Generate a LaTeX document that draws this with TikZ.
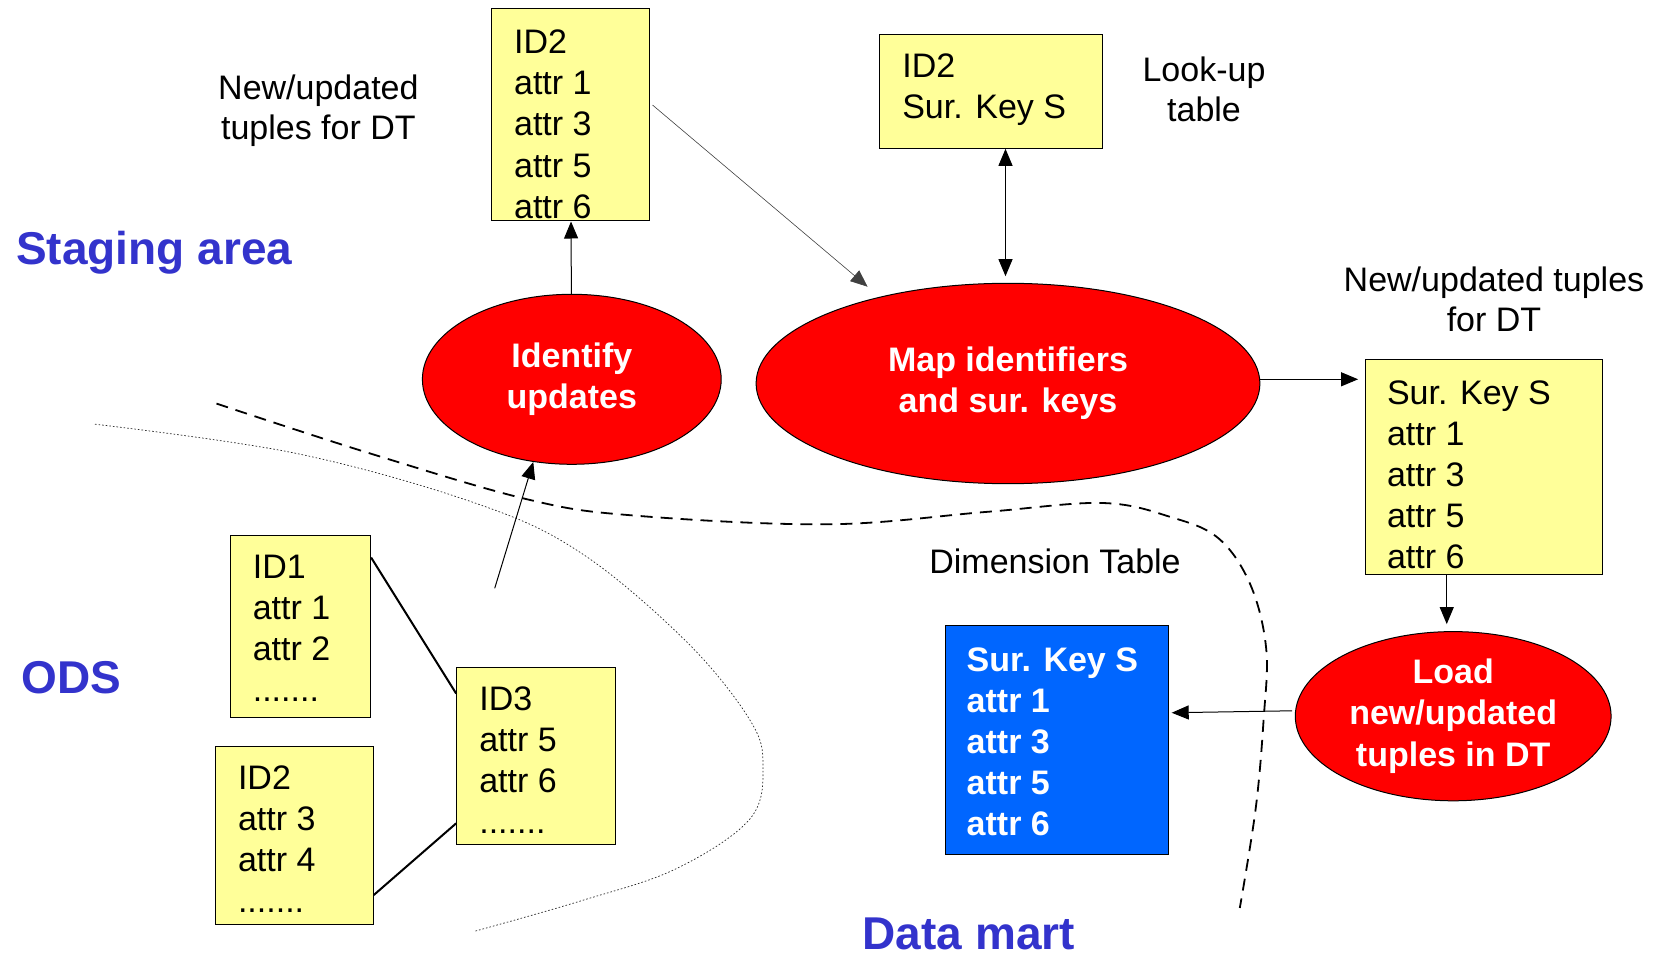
\documentclass[tikz,border=0pt]{standalone}
\usepackage{fontspec}
\setmainfont{Liberation Sans}
\usetikzlibrary{arrows.meta,calc,shapes.geometric}
\definecolor{boxyellow}{RGB}{255,255,153}
\definecolor{boxblue}{RGB}{0,102,255}
\definecolor{procred}{RGB}{255,0,0}
\definecolor{areablue}{RGB}{51,51,204}
\begin{document}
\begin{tikzpicture}[x=0.5pt,y=-0.5pt,
  ybox/.style={draw=black, line width=0.5pt, fill=boxyellow, inner sep=0},
  bbox/.style={draw=black, line width=0.5pt, fill=boxblue, inner sep=0},
  btext/.style={inner sep=0, anchor=north west, align=left, font=\fontsize{17}{20.6}\selectfont},
  wtext/.style={inner sep=0, anchor=north west, align=left, text=white, font=\fontsize{17}{20.6}\selectfont\bfseries},
  proc/.style={ellipse, draw=black, line width=0.5pt, fill=procred, text=white, align=center, inner sep=0, font=\fontsize{17}{20.7}\selectfont\bfseries},
  lbl/.style={inner sep=0, align=center, font=\fontsize{17}{20}\selectfont},
  area/.style={inner sep=0, anchor=base west, text=areablue, font=\fontsize{23}{27}\selectfont\bfseries},
  arr/.style={-{Triangle[length=8.5pt,width=7pt]}, line width=0.5pt},
  dblarr/.style={{Triangle[length=8.5pt,width=7pt]}-{Triangle[length=8.5pt,width=7pt]}, line width=0.5pt},
  thinarr/.style={-{Triangle[length=8.5pt,width=7pt]}, line width=0.3pt, draw=black!75},
  link/.style={line width=1pt},
  boundary/.style={line width=0.9pt, dash pattern=on 6pt off 4pt},
  fineline/.style={line width=0.35pt, draw=black!85, dash pattern=on 0.8pt off 1pt}
]
\useasboundingbox (0,0) rectangle (1656,957);

% area titles
\node[area] (tstage) at (15.8,265) {Staging area};
\node[area] (tods) at (21.1,693) {ODS};
\node[area] (tmart) at (862.3,949) {Data mart};

% boundaries
\draw[boundary] plot[smooth, tension=0.6] coordinates {(216.5,403.6) (369.6,453.3) (528,499.5) (633.6,515.5) (828,524.3) (986.4,511.9) (1102.5,503) (1171.2,517.2) (1218.7,538.5) (1250.4,584.7) (1266.2,648.7) (1263.6,719.7) (1255.7,808.5) (1239.8,908)};
\draw[fineline] plot[smooth, tension=0.6] coordinates {(95,424.2) (295.7,453.3) (475,503) (580.8,552.8) (686.4,641.6) (749.7,719.7) (763,765.9) (749.7,819.2) (675.8,868.9) (580.8,900.9) (475.2,931.1)};

% top staging table
\node[ybox, minimum width=78.9pt, minimum height=106pt] (tb) at (570.5,115) {};
\node[btext] (tbt) at (513.7,29.3) {ID2\\attr 1\\attr 3\\attr 5\\attr 6};
\node[lbl, anchor=north] (lnew1) at (318.4,74.5) {New/updated\\tuples for DT};

% look-up table
\node[ybox, minimum width=111.4pt, minimum height=57pt] (lk) at (991.1,91.3) {};
\node[btext] (lkt) at (901.9,53.3) {ID2\\Sur. Key S};
\node[lbl, anchor=north] (llook) at (1204,56.2) {Look-up\\table};

% processes
\node[proc, minimum width=149.4pt, minimum height=85pt] (ident) at (571.8,379.3) {Identify\\updates};
\node[proc, minimum width=251.9pt, minimum height=100.2pt] (map) at (1008,383.5) {Map identifiers\\and sur. keys};
\node[proc, minimum width=157.9pt, minimum height=84.6pt] (load) at (1453.2,716.2) {Load\\new/updated\\tuples in DT};

% right staging table
\node[lbl, anchor=north] (lnew2) at (1494,266) {New/updated tuples\\for DT};
\node[ybox, minimum width=118.75pt, minimum height=107pt] (rb) at (1483.75,467) {};
\node[btext] (rbt) at (1386.6,380) {Sur. Key S\\attr 1\\attr 3\\attr 5\\attr 6};

% dimension table
\node[lbl, anchor=base] (ldim) at (1055,573) {Dimension Table};
\node[bbox, minimum width=111.65pt, minimum height=114.55pt] (bb) at (1056.85,740.15) {};
\node[wtext] (bbt) at (966.3,646.9) {Sur. Key S\\attr 1\\attr 3\\attr 5\\attr 6};

% ODS tables
\node[ybox, minimum width=70.2pt, minimum height=91.1pt] (id1) at (300.4,626.1) {};
\node[btext] (id1t) at (252.4,554.5) {ID1\\attr 1\\attr 2\\.......};
\node[ybox, minimum width=78.95pt, minimum height=88.8pt] (id2) at (294.35,835.2) {};
\node[btext] (id2t) at (237.6,765.2) {ID2\\attr 3\\attr 4\\.......};
\node[ybox, minimum width=79.2pt, minimum height=88.85pt] (id3) at (535.9,755.95) {};
\node[btext] (id3t) at (478.9,686) {ID3\\attr 5\\attr 6\\.......};

% links between ODS tables
\draw[link] ($(id1.north east)+(0,23)$) -- ($(id3.north west)+(0,27)$);
\draw[link] ($(id2.south east)+(0,-29.5)$) -- ($(id3.south west)+(0,-22)$);

% flows
\coordinate (odsout) at (494.7,588.3);
\draw[arr] (odsout) -- (ident.245);
\draw[arr] (ident) -- (tb);
\coordinate (mapin) at (867.6,286.7);
\draw[thinarr] ($(tb.east)+(2.6,-10)$) -- (mapin);
\coordinate (dbl) at ($(lk.south)+(14.4,0)$);
\draw[dblarr, shorten >=3.3pt] (dbl) -- (dbl |- map.north);
\coordinate (mapout) at ($(map.east)+(0,-4.2)$);
\draw[arr, shorten >=3.2pt] (mapout) -- (mapout -| rb.west);
\coordinate (rbout) at ($(rb.south)+(-37,0)$);
\draw[arr, shorten >=3.5pt] (rbout) -- (rbout |- load.north);
\coordinate (loadout) at ($(load.west)+(-2.7,-5.4)$);
\coordinate (bbin) at ($(bb.east)+(2.7,-27.4)$);
\draw[arr] (loadout) -- (bbin);
\end{tikzpicture}
\end{document}
